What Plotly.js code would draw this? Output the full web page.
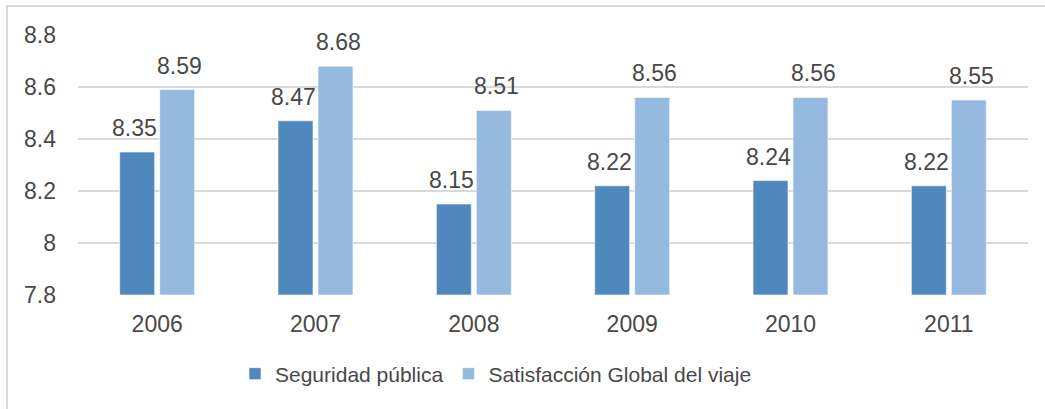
<!DOCTYPE html>
<html><head><meta charset="utf-8">
<script src="https://cdn.plot.ly/plotly-3.0.1.min.js"></script>
<style>
html,body{margin:0;padding:0;background:#fff;}
#wrap{position:relative;width:1045px;height:409px;}
#chart{position:absolute;left:0;top:0;width:1045px;height:409px;}
#frame{position:absolute;left:6px;top:5px;width:1045px;height:409px;border-left:2px solid #d9d9d9;border-top:2px solid #d9d9d9;pointer-events:none;box-sizing:border-box;}
</style></head>
<body><div id="wrap"><div id="chart"></div><div id="frame"></div></div>
<script>
const years = ['2006','2007','2008','2009','2010','2011'];
const seguridad = [8.35, 8.47, 8.15, 8.22, 8.24, 8.22];
const satisfaccion = [8.59, 8.68, 8.51, 8.56, 8.56, 8.55];
const yTicks = [7.8, 8, 8.2, 8.4, 8.6, 8.8];
const yTickText = ['7.8', '8', '8.2', '8.4', '8.6', '8.8'];
const axisMin = 7.8;

const fontFam = '"Liberation Sans", Arial, sans-serif';
const txtColor = '#484848';
function mk(name, vals, color){
  return {type:'bar', name:name, x:years, y:vals.map(v=>v-axisMin), base:axisMin,
    marker:{color:color, line:{color:'rgba(255,255,255,0.6)', width:1}},
    hoverinfo:'skip'};
}
const data = [
  mk('Seguridad pública', seguridad, '#4f88bd'),
  mk('Satisfacción Global del viaje', satisfaccion, '#96b9e0')
];
const annotations = [];
[[seguridad,-22.5],[satisfaccion,22.5]].forEach(([vals,dx])=>{
  vals.forEach((v,i)=>{
    // category axis: annotation x uses the category index
    annotations.push({x:i, y:v, xref:'x', yref:'y', text:v.toFixed(2),
      showarrow:false, xanchor:'center', yanchor:'bottom', xshift:dx, yshift:9,
      font:{family:fontFam, size:23, color:txtColor}});
  });
});
const layout = {
  width:1045, height:409,
  margin:{l:78, r:17, t:35, b:114},
  paper_bgcolor:'#fff', plot_bgcolor:'#fff',
  barmode:'group', bargap:0.495, bargroupgap:0.125,
  showlegend:true,
  legend:{orientation:'h', x:0.44, xanchor:'center', y:-0.225, yanchor:'top',
    font:{family:fontFam, size:21, color:txtColor}, itemwidth:30, traceorder:'normal'},
  xaxis:{type:'category', showgrid:false, zeroline:false, showline:false, ticks:'',
    ticklabelstandoff:13,
    tickfont:{family:fontFam, size:23, color:txtColor}},
  yaxis:{range:[7.8, 8.8], tickmode:'array', tickvals:yTicks, ticktext:yTickText,
    showgrid:true, gridcolor:'#d9d9d9', gridwidth:1.5, zeroline:false, showline:false,
    ticks:'', ticklabelstandoff:21, tickfont:{family:fontFam, size:23, color:txtColor}},
  annotations:annotations,
  font:{family:fontFam}
};
Plotly.newPlot('chart', data, layout, {displayModeBar:false, staticPlot:true});
</script></body></html>
